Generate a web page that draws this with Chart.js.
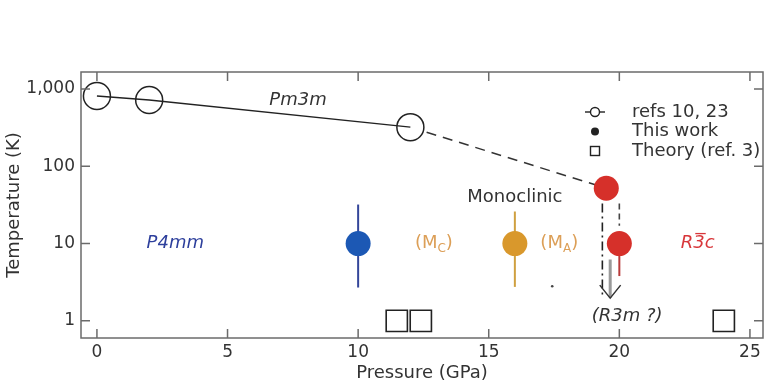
<!DOCTYPE html>
<html>
<head>
<meta charset="utf-8">
<script src="https://cdn.jsdelivr.net/npm/chart.js@4.4.0/dist/chart.umd.min.js"></script>
<style>
  html, body { margin: 0; padding: 0; background: #fff; }
  #wrap { width: 765px; height: 389px; }
</style>
</head>
<body>
<div id="wrap"><canvas id="chart" width="765" height="389"></canvas></div>
<script>
// axis ticks
const pressureTicks = [0, 5, 10, 15, 20, 25];
const tempTicks = [1, 10, 100, 1000];

// refs 10, 23 (open circles, solid line)
const refsP = [0, 2, 12];
const refsT = [811, 720, 321];
// dashed extrapolation to the high-pressure point
const dashP = [12, 19.5];
const dashT = [321, 52];

// this work (filled circles)
const workP = [10, 16, 19.5, 20];
const workT = [10, 10, 52, 10];
const workColors = ['#1c58b4', '#d9982c', '#d6302a', '#d6302a'];

// error bars
const errP = [10, 16, 20];
const errLow = [2.7, 2.75, 3.8];
const errHigh = [32, 26, 10];
const errColors = ['#34469a', '#cfa040', '#b83a3a'];

// theory (ref. 3), open squares at 1 K
const theoryP = [11.48, 12.4, 24];
const theoryT = [1, 1, 1];

// phase boundary markers near 20 GPa
const dashDotP = [19.35, 19.35];
const dashDotT = [33, 2.0];
const shortDashP = [20, 20];
const shortDashT = [33, 17];
const arrowP = [19.65, 19.65];
const arrowT = [6.2, 2.0];
const headP = [19.25, 19.65, 20.05];
const headT = [2.9, 1.97, 2.9];
const strayP = [17.43];
const strayT = [2.8];

// text labels in data coordinates
const phaseLabels = [
  { text: 'Pm3m', x: 7.7, y: 720, color: '#333', italic: true },
  { text: 'P4mm', x: 3.0, y: 10, color: '#2d3f9c', italic: true },
  { text: 'Monoclinic', x: 16.0, y: 40, color: '#333', italic: false },
  { text: '(R3m ?)', x: 20.3, y: 1.13, color: '#333', italic: true }
];

const FONT = '"DejaVu Sans", "Liberation Sans", Arial, sans-serif';

const pts = (xs, ys) => xs.map((x, i) => ({ x, y: ys[i] }));

function lineSet(xs, ys, color, width, dash, order) {
  return {
    data: pts(xs, ys),
    showLine: true,
    borderColor: color,
    borderWidth: width,
    borderDash: dash || [],
    pointRadius: 0,
    fill: false,
    order
  };
}

const datasets = [];
errP.forEach((p, i) => {
  datasets.push(lineSet([p, p], [errLow[i], errHigh[i]], errColors[i], 2, null, 6));
});
datasets.push(lineSet(dashDotP, dashDotT, '#222', 1.6, [9, 4, 2, 4], 5));
datasets.push(lineSet(shortDashP, shortDashT, '#444', 1.6, [6, 4], 5));
datasets.push(lineSet(arrowP, arrowT, '#9a9a9a', 3, null, 5));
datasets.push(lineSet(headP, headT, '#333', 1.5, null, 4));
datasets.push(lineSet(dashP, dashT, '#333', 1.5, [10, 7], 3));
datasets.push({
  data: pts(theoryP, theoryT),
  pointStyle: 'rect',
  pointRadius: 15,
  pointBorderColor: '#222',
  pointBorderWidth: 1.6,
  pointBackgroundColor: 'rgba(255,255,255,0)',
  showLine: false,
  order: 2
});
datasets.push({
  data: pts(refsP, refsT),
  pointStyle: 'circle',
  pointRadius: 13.5,
  pointBorderColor: '#222',
  pointBorderWidth: 1.5,
  pointBackgroundColor: '#fff',
  showLine: false,
  order: 2
});
datasets.push(lineSet(refsP, refsT, '#222', 1.4, null, 1));
datasets.push({
  data: pts(strayP, strayT),
  pointRadius: 1.3,
  pointBackgroundColor: '#444',
  pointBorderWidth: 0,
  showLine: false,
  order: 1
});
datasets.push({
  data: pts(workP, workT),
  pointStyle: 'circle',
  pointRadius: 12.5,
  pointBackgroundColor: workColors,
  pointBorderColor: workColors,
  pointBorderWidth: 0,
  showLine: false,
  order: 0
});

// frame, inward ticks, legend and phase labels
const decorations = {
  id: 'decorations',
  afterDraw(chart) {
    const { ctx, chartArea: a, scales } = chart;
    const xs = scales.x, ys = scales.y;
    ctx.save();
    ctx.strokeStyle = '#6b6b6b';
    ctx.lineWidth = 1.5;
    ctx.strokeRect(a.left, a.top, a.right - a.left, a.bottom - a.top);
    ctx.beginPath();
    pressureTicks.forEach(v => {
      const px = xs.getPixelForValue(v);
      ctx.moveTo(px, a.bottom); ctx.lineTo(px, a.bottom - 9);
      ctx.moveTo(px, a.top); ctx.lineTo(px, a.top + 9);
    });
    tempTicks.forEach(v => {
      const py = ys.getPixelForValue(v);
      ctx.moveTo(a.left, py); ctx.lineTo(a.left + 9, py);
      ctx.moveTo(a.right, py); ctx.lineTo(a.right - 9, py);
    });
    ctx.stroke();

    ctx.textBaseline = 'middle';
    // plain phase labels
    phaseLabels.forEach(l => {
      ctx.font = (l.italic ? 'italic ' : '') + '18px ' + FONT;
      ctx.fillStyle = l.color;
      ctx.textAlign = 'center';
      ctx.fillText(l.text, xs.getPixelForValue(l.x), ys.getPixelForValue(l.y));
    });

    // (M_C) and (M_A) with subscripts
    const sub = (x, y, letter) => {
      const px = xs.getPixelForValue(x), py = ys.getPixelForValue(y);
      ctx.fillStyle = '#dc9f57';
      ctx.textAlign = 'left';
      ctx.font = '18px ' + FONT;
      const w1 = ctx.measureText('(M').width;
      ctx.font = '12px ' + FONT;
      const w2 = ctx.measureText(letter).width;
      ctx.font = '18px ' + FONT;
      const w3 = ctx.measureText(')').width;
      let x0 = px - (w1 + w2 + w3) / 2;
      ctx.fillText('(M', x0, py);
      ctx.font = '12px ' + FONT;
      ctx.fillText(letter, x0 + w1, py + 5);
      ctx.font = '18px ' + FONT;
      ctx.fillText(')', x0 + w1 + w2, py);
    };
    sub(12.9, 10, 'C');
    sub(17.7, 10, 'A');

    // R-3c with bar over the 3
    {
      const px = xs.getPixelForValue(23.0), py = ys.getPixelForValue(10);
      ctx.font = 'italic 18px ' + FONT;
      ctx.fillStyle = '#d8363a';
      ctx.strokeStyle = '#d8363a';
      ctx.textAlign = 'left';
      const wR = ctx.measureText('R').width, w3 = ctx.measureText('3').width;
      const wAll = ctx.measureText('R3c').width;
      const x0 = px - wAll / 2;
      ctx.fillText('R3c', x0, py);
      ctx.lineWidth = 1.3;
      ctx.beginPath();
      ctx.moveTo(x0 + wR + 2, py - 10);
      ctx.lineTo(x0 + wR + w3 + 1, py - 10);
      ctx.stroke();
    }

    // legend
    const lx = 595, tx = 632, rows = [112, 131.5, 151];
    ctx.strokeStyle = '#222';
    ctx.fillStyle = '#222';
    ctx.lineWidth = 1.4;
    ctx.beginPath();
    ctx.moveTo(lx - 10, rows[0]); ctx.lineTo(lx + 10, rows[0]);
    ctx.stroke();
    ctx.beginPath();
    ctx.arc(lx, rows[0], 4.5, 0, Math.PI * 2);
    ctx.fillStyle = '#fff'; ctx.fill(); ctx.stroke();
    ctx.fillStyle = '#222';
    ctx.beginPath();
    ctx.arc(lx, rows[1], 4, 0, Math.PI * 2);
    ctx.fill();
    ctx.strokeRect(lx - 4.5, rows[2] - 4.5, 9, 9);
    ctx.font = '18px ' + FONT;
    ctx.fillStyle = '#333';
    ctx.textAlign = 'left';
    ctx.fillText('refs 10, 23', tx, rows[0]);
    ctx.fillText('This work', tx, rows[1]);
    ctx.fillText('Theory (ref. 3)', tx, rows[2]);
    ctx.restore();
  }
};

new Chart(document.getElementById('chart'), {
  type: 'scatter',
  data: { datasets },
  options: {
    responsive: false,
    animation: false,
    layout: { autoPadding: false, padding: { top: 72, right: 2, left: 0, bottom: 0 } },
    plugins: { legend: { display: false }, tooltip: { enabled: false } },
    scales: {
      x: {
        type: 'linear',
        min: -0.61,
        max: 25.5,
        afterBuildTicks: s => { s.ticks = pressureTicks.map(v => ({ value: v })); },
        afterFit: s => { s.height = 51; s.paddingLeft = 0; s.paddingRight = 0; },
        grid: { display: false, drawTicks: false },
        border: { display: false },
        ticks: { color: '#333', padding: 4, font: { family: FONT, size: 17 } },
        title: { display: true, text: 'Pressure (GPa)', color: '#333', padding: { top: 0, bottom: 5 }, font: { family: FONT, size: 18 } }
      },
      y: {
        type: 'logarithmic',
        min: 0.6,
        max: 1660,
        afterBuildTicks: s => { s.ticks = tempTicks.map(v => ({ value: v })); },
        afterFit: s => { s.width = 81; s.paddingTop = 0; s.paddingBottom = 0; },
        grid: { display: false, drawTicks: false },
        border: { display: false },
        ticks: { color: '#333', padding: 6, font: { family: FONT, size: 17 }, callback: v => v.toLocaleString('en-US') },
        title: { display: true, text: 'Temperature (K)', color: '#333', padding: { top: 4, bottom: 0 }, font: { family: FONT, size: 18 } }
      }
    }
  },
  plugins: [decorations]
});
</script>
</body>
</html>
